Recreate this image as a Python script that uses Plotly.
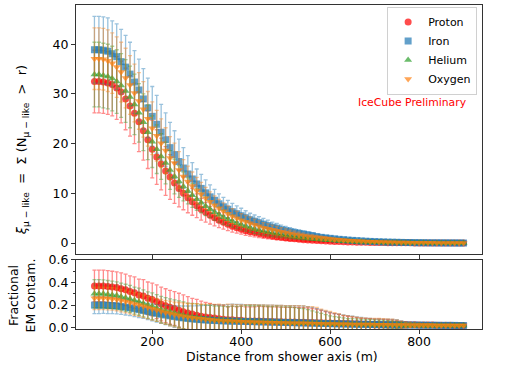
import plotly.graph_objects as go

# bin centres along the shower axis (m)
DIST = list(range(70, 910, 10))

# top panel: xi_mu-like = sum(N_mu-like > r), mean and error per primary
PROTON = [32.5, 32.5, 32.4, 32.2, 31.9, 31.2, 30.4, 29.0, 27.6, 26.1,
          24.4, 22.6, 20.8, 18.9, 17.3, 15.9, 14.5, 13.3, 12.1, 11.0,
          10.0, 9.1, 8.3, 7.5, 6.8, 6.2, 5.6, 5.1, 4.6, 4.2,
          3.8, 3.4, 3.1, 2.8, 2.5, 2.3, 2.1, 1.9, 1.7, 1.55,
          1.4, 1.27, 1.15, 1.04, 0.94, 0.85, 0.77, 0.69, 0.62, 0.56,
          0.5, 0.45, 0.4, 0.36, 0.32, 0.29, 0.26, 0.23, 0.2, 0.18,
          0.16, 0.14, 0.12, 0.11, 0.1, 0.09, 0.08, 0.07, 0.06, 0.05,
          0.04, 0.04, 0.03, 0.03, 0.02, 0.02, 0.02, 0.02, 0.01, 0.01,
          0.01, 0.01, 0.0, 0.0]
PROTON_ERR = [6.3, 6.3, 6.3, 6.3, 6.3, 6.3, 6.2, 6.2, 6.1, 6.1,
              6.0, 5.9, 5.8, 5.8, 5.5, 5.2, 4.9, 4.5, 4.1, 3.7,
              3.3, 3.0, 2.7, 2.4, 2.2, 2.0, 1.8, 1.65, 1.5, 1.4,
              1.3, 1.2, 1.1, 1.0, 0.95, 0.9, 0.85, 0.8, 0.75, 0.7,
              0.65, 0.6, 0.55, 0.5, 0.46, 0.42, 0.38, 0.35, 0.32, 0.29,
              0.26, 0.24, 0.22, 0.2, 0.18, 0.16, 0.14, 0.13, 0.12, 0.1,
              0.09, 0.08, 0.07, 0.06, 0.06, 0.05, 0.05, 0.04, 0.04, 0.03,
              0.03, 0.02, 0.02, 0.02, 0.02, 0.01, 0.01, 0.01, 0.01, 0.01,
              0.01, 0.0, 0.0, 0.0]

IRON = [38.9, 38.9, 38.8, 38.6, 38.1, 37.5, 36.5, 35.4, 34.0, 32.4,
        30.8, 29.0, 27.2, 25.5, 23.9, 22.3, 20.8, 19.2, 17.8, 16.4,
        15.1, 13.9, 12.9, 11.9, 11.0, 10.1, 9.3, 8.6, 7.9, 7.3,
        6.8, 6.3, 5.9, 5.5, 5.1, 4.7, 4.4, 4.1, 3.8, 3.5,
        3.2, 3.0, 2.7, 2.5, 2.3, 2.1, 1.95, 1.8, 1.65, 1.5,
        1.3, 1.15, 1.05, 0.95, 0.85, 0.75, 0.68, 0.6, 0.54, 0.48,
        0.42, 0.37, 0.33, 0.29, 0.25, 0.22, 0.19, 0.17, 0.15, 0.13,
        0.11, 0.1, 0.08, 0.07, 0.06, 0.05, 0.04, 0.04, 0.03, 0.03,
        0.02, 0.02, 0.01, 0.01]
IRON_ERR = [6.7, 6.7, 6.7, 6.7, 6.6, 6.6, 6.5, 6.4, 6.4, 6.3,
            6.2, 6.1, 6.0, 6.0, 5.8, 5.6, 5.4, 5.1, 4.8, 4.5,
            4.1, 3.7, 3.3, 3.0, 2.8, 2.6, 2.4, 2.2, 2.0, 1.9,
            1.8, 1.7, 1.6, 1.5, 1.4, 1.3, 1.25, 1.2, 1.15, 1.1,
            1.0, 0.95, 0.9, 0.85, 0.8, 0.75, 0.7, 0.65, 0.6, 0.55,
            0.5, 0.45, 0.42, 0.38, 0.35, 0.32, 0.3, 0.27, 0.25, 0.22,
            0.2, 0.18, 0.16, 0.14, 0.12, 0.11, 0.1, 0.09, 0.08, 0.07,
            0.06, 0.05, 0.05, 0.04, 0.04, 0.03, 0.03, 0.03, 0.02, 0.02,
            0.02, 0.01, 0.01, 0.01]

HELIUM = [33.9, 33.9, 33.7, 33.5, 33.1, 32.5, 31.7, 30.6, 29.4, 27.9,
          26.2, 24.3, 22.3, 20.4, 18.9, 17.4, 16.1, 14.7, 13.4, 12.4,
          11.4, 10.5, 9.6, 8.8, 8.1, 7.4, 6.8, 6.2, 5.7, 5.2,
          4.8, 4.4, 4.0, 3.7, 3.4, 3.1, 2.8, 2.6, 2.4, 2.2,
          2.0, 1.85, 1.7, 1.55, 1.4, 1.28, 1.16, 1.05, 0.95, 0.86,
          0.78, 0.7, 0.63, 0.56, 0.5, 0.45, 0.4, 0.36, 0.32, 0.28,
          0.25, 0.22, 0.19, 0.17, 0.15, 0.13, 0.11, 0.1, 0.09, 0.08,
          0.07, 0.06, 0.05, 0.04, 0.04, 0.03, 0.03, 0.02, 0.02, 0.02,
          0.01, 0.01, 0.01, 0.01]
HELIUM_ERR = [6.5, 6.5, 6.5, 6.5, 6.5, 6.4, 6.4, 6.3, 6.2, 6.1,
              5.9, 5.7, 5.5, 5.2, 4.9, 4.6, 4.2, 3.9, 3.5, 3.2,
              2.9, 2.6, 2.4, 2.2, 2.0, 1.85, 1.7, 1.6, 1.5, 1.4,
              1.3, 1.2, 1.1, 1.05, 1.0, 0.95, 0.9, 0.85, 0.8, 0.75,
              0.7, 0.65, 0.6, 0.55, 0.5, 0.46, 0.42, 0.39, 0.36, 0.33,
              0.3, 0.27, 0.25, 0.23, 0.21, 0.19, 0.17, 0.15, 0.14, 0.12,
              0.11, 0.1, 0.09, 0.08, 0.07, 0.06, 0.05, 0.05, 0.04, 0.04,
              0.03, 0.03, 0.03, 0.02, 0.02, 0.02, 0.02, 0.01, 0.01, 0.01,
              0.01, 0.01, 0.01, 0.01]

OXYGEN = [37.1, 37.1, 37.0, 36.7, 36.2, 35.4, 34.4, 33.2, 31.8, 30.2,
          28.6, 26.9, 25.0, 23.1, 21.6, 20.1, 18.6, 17.1, 16.1, 14.7,
          13.4, 12.4, 11.5, 10.6, 9.8, 9.0, 8.3, 7.6, 7.0, 6.4,
          5.9, 5.4, 5.0, 4.6, 4.3, 4.0, 3.7, 3.4, 3.1, 2.9,
          2.7, 2.5, 2.3, 2.1, 1.9, 1.75, 1.6, 1.45, 1.3, 1.2,
          1.1, 1.0, 0.9, 0.8, 0.72, 0.65, 0.58, 0.52, 0.46, 0.41,
          0.36, 0.32, 0.28, 0.25, 0.22, 0.19, 0.17, 0.15, 0.13, 0.11,
          0.1, 0.08, 0.07, 0.06, 0.05, 0.04, 0.04, 0.03, 0.03, 0.02,
          0.02, 0.02, 0.01, 0.01]
OXYGEN_ERR = [6.2, 6.2, 6.2, 6.2, 6.1, 6.1, 6.0, 6.0, 5.9, 5.8,
              5.7, 5.6, 5.5, 5.3, 5.1, 4.9, 4.6, 4.3, 4.0, 3.7,
              3.4, 3.1, 2.8, 2.6, 2.4, 2.2, 2.0, 1.9, 1.8, 1.7,
              1.6, 1.5, 1.4, 1.3, 1.25, 1.2, 1.1, 1.05, 1.0, 0.95,
              0.9, 0.85, 0.8, 0.75, 0.7, 0.65, 0.6, 0.55, 0.5, 0.47,
              0.44, 0.4, 0.37, 0.34, 0.31, 0.28, 0.26, 0.24, 0.22, 0.2,
              0.18, 0.16, 0.14, 0.13, 0.11, 0.1, 0.09, 0.08, 0.07, 0.06,
              0.05, 0.05, 0.04, 0.04, 0.03, 0.03, 0.03, 0.02, 0.02, 0.02,
              0.01, 0.01, 0.01, 0.01]

# bottom panel: fractional EM contamination
PROTON_EM = [0.37, 0.37, 0.37, 0.365, 0.36, 0.355, 0.345, 0.335, 0.32, 0.31,
             0.29, 0.28, 0.26, 0.25, 0.23, 0.21, 0.195, 0.18, 0.17, 0.155,
             0.14, 0.13, 0.12, 0.11, 0.1, 0.095, 0.09, 0.085, 0.08, 0.075,
             0.07, 0.07, 0.065, 0.065, 0.06, 0.06, 0.06, 0.058, 0.056, 0.055,
             0.054, 0.053, 0.052, 0.05, 0.05, 0.05, 0.048, 0.047, 0.046, 0.045,
             0.044, 0.043, 0.042, 0.041, 0.04, 0.038, 0.037, 0.036, 0.035, 0.034,
             0.033, 0.032, 0.031, 0.03, 0.03, 0.029, 0.028, 0.028, 0.027, 0.026,
             0.026, 0.025, 0.025, 0.024, 0.024, 0.023, 0.023, 0.022, 0.022, 0.021,
             0.021, 0.02, 0.02, 0.02]
PROTON_EM_ERR = [0.14, 0.14, 0.14, 0.14, 0.14, 0.14, 0.14, 0.14, 0.14, 0.14,
                 0.14, 0.145, 0.145, 0.145, 0.15, 0.15, 0.15, 0.15, 0.15, 0.15,
                 0.15, 0.145, 0.14, 0.14, 0.135, 0.13, 0.125, 0.12, 0.12, 0.12,
                 0.115, 0.12, 0.12, 0.125, 0.125, 0.125, 0.125, 0.13, 0.13, 0.13,
                 0.13, 0.13, 0.13, 0.13, 0.13, 0.13, 0.13, 0.13, 0.13, 0.125,
                 0.12, 0.11, 0.1, 0.09, 0.085, 0.08, 0.07, 0.065, 0.06, 0.055,
                 0.05, 0.05, 0.048, 0.046, 0.045, 0.044, 0.042, 0.04, 0.035, 0.03,
                 0.025, 0.02, 0.018, 0.016, 0.015, 0.014, 0.013, 0.012, 0.011, 0.01,
                 0.01, 0.01, 0.01, 0.01]

IRON_EM = [0.2, 0.2, 0.2, 0.198, 0.196, 0.193, 0.188, 0.182, 0.176, 0.168,
           0.16, 0.152, 0.144, 0.135, 0.127, 0.119, 0.112, 0.105, 0.098, 0.092,
           0.087, 0.082, 0.078, 0.074, 0.071, 0.068, 0.066, 0.064, 0.062, 0.06,
           0.059, 0.058, 0.057, 0.056, 0.055, 0.054, 0.053, 0.052, 0.051, 0.05,
           0.049, 0.048, 0.047, 0.046, 0.045, 0.044, 0.043, 0.042, 0.041, 0.04,
           0.039, 0.038, 0.037, 0.036, 0.035, 0.034, 0.033, 0.032, 0.031, 0.03,
           0.03, 0.029, 0.028, 0.028, 0.027, 0.026, 0.026, 0.025, 0.025, 0.024,
           0.024, 0.023, 0.023, 0.022, 0.022, 0.021, 0.021, 0.021, 0.02, 0.02,
           0.02, 0.02, 0.019, 0.019]
IRON_EM_ERR = [0.075, 0.075, 0.074, 0.073, 0.072, 0.071, 0.07, 0.07, 0.07, 0.07,
               0.07, 0.07, 0.072, 0.075, 0.078, 0.08, 0.085, 0.09, 0.095, 0.1,
               0.105, 0.11, 0.115, 0.12, 0.125, 0.13, 0.135, 0.14, 0.14, 0.145,
               0.145, 0.15, 0.15, 0.15, 0.15, 0.15, 0.15, 0.15, 0.15, 0.15,
               0.15, 0.15, 0.15, 0.15, 0.15, 0.15, 0.15, 0.15, 0.145, 0.14,
               0.13, 0.12, 0.11, 0.1, 0.09, 0.085, 0.08, 0.075, 0.07, 0.065,
               0.06, 0.055, 0.055, 0.05, 0.05, 0.05, 0.05, 0.048, 0.045, 0.035,
               0.025, 0.02, 0.018, 0.016, 0.015, 0.014, 0.013, 0.012, 0.011, 0.01,
               0.01, 0.01, 0.01, 0.01]

HELIUM_EM = [0.3, 0.3, 0.3, 0.295, 0.29, 0.285, 0.275, 0.265, 0.255, 0.24,
             0.23, 0.215, 0.2, 0.19, 0.175, 0.16, 0.15, 0.14, 0.13, 0.12,
             0.11, 0.1, 0.095, 0.09, 0.085, 0.08, 0.075, 0.07, 0.068, 0.065,
             0.062, 0.06, 0.058, 0.056, 0.055, 0.054, 0.052, 0.05, 0.05, 0.048,
             0.047, 0.046, 0.045, 0.044, 0.043, 0.042, 0.041, 0.04, 0.039, 0.038,
             0.037, 0.036, 0.035, 0.034, 0.033, 0.032, 0.031, 0.03, 0.03, 0.029,
             0.028, 0.027, 0.027, 0.026, 0.025, 0.025, 0.024, 0.024, 0.023, 0.023,
             0.022, 0.022, 0.021, 0.021, 0.02, 0.02, 0.02, 0.019, 0.019, 0.019,
             0.018, 0.018, 0.018, 0.018]
HELIUM_EM_ERR = [0.125, 0.125, 0.124, 0.123, 0.122, 0.121, 0.12, 0.12, 0.12, 0.12,
                 0.12, 0.12, 0.118, 0.118, 0.117, 0.117, 0.116, 0.116, 0.116, 0.117,
                 0.118, 0.118, 0.119, 0.12, 0.12, 0.121, 0.122, 0.122, 0.123, 0.124,
                 0.125, 0.13, 0.13, 0.135, 0.14, 0.14, 0.14, 0.145, 0.14, 0.14,
                 0.14, 0.145, 0.14, 0.14, 0.14, 0.135, 0.13, 0.13, 0.12, 0.11,
                 0.1, 0.09, 0.08, 0.07, 0.065, 0.06, 0.055, 0.05, 0.05, 0.048,
                 0.046, 0.045, 0.044, 0.043, 0.042, 0.04, 0.038, 0.035, 0.03, 0.025,
                 0.02, 0.018, 0.016, 0.015, 0.014, 0.013, 0.012, 0.011, 0.01, 0.01,
                 0.01, 0.01, 0.01, 0.01]

OXYGEN_EM = [0.26, 0.26, 0.26, 0.258, 0.255, 0.25, 0.24, 0.232, 0.222, 0.21,
             0.2, 0.19, 0.178, 0.167, 0.156, 0.145, 0.135, 0.125, 0.116, 0.108,
             0.1, 0.094, 0.088, 0.083, 0.078, 0.074, 0.07, 0.066, 0.063, 0.06,
             0.058, 0.056, 0.054, 0.052, 0.05, 0.049, 0.048, 0.047, 0.046, 0.045,
             0.044, 0.043, 0.042, 0.041, 0.04, 0.04, 0.039, 0.038, 0.037, 0.036,
             0.035, 0.034, 0.033, 0.033, 0.032, 0.031, 0.03, 0.03, 0.029, 0.028,
             0.028, 0.027, 0.027, 0.026, 0.026, 0.025, 0.025, 0.024, 0.024, 0.023,
             0.023, 0.022, 0.022, 0.022, 0.021, 0.021, 0.021, 0.02, 0.02, 0.02,
             0.02, 0.019, 0.019, 0.019]
OXYGEN_EM_ERR = [0.1, 0.1, 0.1, 0.1, 0.1, 0.1, 0.1, 0.1, 0.1, 0.1,
                 0.1, 0.1, 0.1, 0.1, 0.1, 0.105, 0.105, 0.11, 0.11, 0.115,
                 0.12, 0.12, 0.125, 0.13, 0.13, 0.135, 0.14, 0.14, 0.145, 0.145,
                 0.15, 0.15, 0.15, 0.15, 0.155, 0.155, 0.155, 0.155, 0.155, 0.155,
                 0.155, 0.155, 0.155, 0.155, 0.155, 0.155, 0.155, 0.155, 0.15, 0.15,
                 0.145, 0.13, 0.12, 0.11, 0.1, 0.09, 0.08, 0.075, 0.07, 0.065,
                 0.06, 0.058, 0.056, 0.055, 0.055, 0.054, 0.053, 0.052, 0.045, 0.035,
                 0.025, 0.02, 0.018, 0.016, 0.015, 0.014, 0.013, 0.012, 0.011, 0.01,
                 0.01, 0.01, 0.01, 0.01]

SERIES = [
    ("Proton", PROTON, PROTON_ERR, PROTON_EM, PROTON_EM_ERR, (255, 0, 0), "circle"),
    ("Iron", IRON, IRON_ERR, IRON_EM, IRON_EM_ERR, (31, 119, 180), "square"),
    ("Helium", HELIUM, HELIUM_ERR, HELIUM_EM, HELIUM_EM_ERR, (44, 160, 44), "triangle-up"),
    ("Oxygen", OXYGEN, OXYGEN_ERR, OXYGEN_EM, OXYGEN_EM_ERR, (255, 127, 14), "triangle-down"),
]

FONT = "DejaVu Sans"
AXIS = "#333333"


def rgba(c, a):
    return f"rgba({c[0]},{c[1]},{c[2]},{a})"


fig = go.Figure()
for name, val, err, em, em_err, col, sym in SERIES:
    fig.add_trace(go.Scatter(
        x=DIST, y=val, mode="markers", name=name, xaxis="x", yaxis="y",
        marker=dict(symbol=sym, size=7, color=rgba(col, 0.7), line=dict(width=0)),
        error_y=dict(type="data", array=err, color=rgba(col, 0.45),
                     thickness=1.3, width=2)))
    fig.add_trace(go.Scatter(
        x=DIST, y=em, mode="markers", name=name, xaxis="x2", yaxis="y2",
        showlegend=False,
        marker=dict(symbol=sym, size=7, color=rgba(col, 0.7), line=dict(width=0)),
        error_y=dict(type="data", array=em_err, color=rgba(col, 0.45),
                     thickness=1.3, width=2)))

axis_style = dict(showline=True, linecolor=AXIS, linewidth=1, mirror=True,
                  ticks="outside", ticklen=4, tickcolor=AXIS, showgrid=False,
                  zeroline=False, automargin=False,
                  tickfont=dict(size=12.5, color="black"))

fig.update_layout(
    width=508, height=367,
    margin=dict(l=76, r=26, t=5, b=38),
    paper_bgcolor="white", plot_bgcolor="white",
    font=dict(family=FONT, color="black"),
    showlegend=True,
    xaxis=dict(domain=[0, 1], range=[28.5, 941.5], anchor="y", matches="x2",
               showticklabels=False, tickvals=[200, 400, 600, 800], **axis_style),
    yaxis=dict(domain=[0.2315, 1], range=[-2.2, 47.9], anchor="x",
               tickvals=[0, 10, 20, 30, 40], **axis_style),
    xaxis2=dict(domain=[0, 1], range=[28.5, 941.5], anchor="y2",
                tickvals=[200, 400, 600, 800], ticklabelstandoff=-3, **axis_style),
    yaxis2=dict(domain=[0, 0.213], range=[-0.012, 0.6], anchor="x2",
                tickvals=[0.0, 0.2, 0.4, 0.6], tickformat=".1f",
                minor=dict(ticks="outside", ticklen=2, tickcolor=AXIS, dtick=0.1),
                **axis_style),
    legend=dict(x=0.988, y=0.995, xanchor="right", yanchor="top",
                bgcolor="white", bordercolor="#d0d0d0", borderwidth=1,
                font=dict(size=11), itemwidth=30, tracegroupgap=0),
)

# axis titles and the preliminary tag, placed to match the source figure
label = dict(xref="paper", yref="paper", showarrow=False,
             xanchor="center", yanchor="middle")
fig.add_annotation(text="Distance from shower axis (m)", x=0.508, y=-0.084,
                   font=dict(size=12.5), **label)
fig.add_annotation(
    text="<i>ξ</i><sub>μ − like</sub>  =  Σ (N<sub>μ − like</sub>  &gt;  r)",
    x=-0.133, y=0.552, textangle=-90, font=dict(size=13), **label)
fig.add_annotation(text="Fractional<br>EM contam.", x=-0.132, y=0.105,
                   textangle=-90, font=dict(size=12.5), **label)
fig.add_annotation(text="IceCube Preliminary", x=0.83, y=0.700,
                   font=dict(size=10.8, color="red"), **label)

# the page body keeps its default 8px margin otherwise
fig.write_html("out.html", config={"displayModeBar": False},
               post_script="document.body.style.margin='0';")
